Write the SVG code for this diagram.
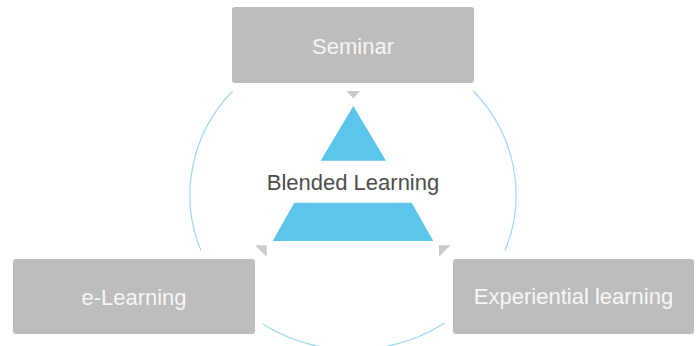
<svg xmlns="http://www.w3.org/2000/svg" width="697" height="346" viewBox="0 0 697 346">
  <style>
    .box { fill: #bdbdbd; }
    .boxlabel { font-family: "Liberation Sans", Arial, sans-serif; font-size: 22px; fill: #f7f7f7; text-anchor: middle; }
    .arc { fill: none; stroke: #9dd9f3; stroke-width: 1.2; }
    .tip { fill: #cbcbcb; }
    .pyr { fill: #5cc5ec; }
    .center { font-family: "Liberation Sans", Arial, sans-serif; font-size: 22px; fill: #4d4d4d; text-anchor: middle; }
  </style>
  <rect width="697" height="346" fill="#ffffff"/>
  <g id="connectors">
    <path class="arc" d="M232.7,91 A163.3,154 0 0,0 201,250.7"/>
    <path class="arc" d="M262.7,324 A163.3,154 0 0,0 445,322.7"/>
    <path class="arc" d="M505,250.7 A163.3,154 0 0,0 473.3,91"/>
    <polygon class="tip" points="346.5,91 360,91 353.3,98.5"/>
    <polygon class="tip" points="255,245.3 266.7,245.3 266.7,256.7"/>
    <polygon class="tip" points="439,245.3 450.7,245.3 439,256.7"/>
  </g>
  <g id="blended-learning">
    <polygon class="pyr" points="353.3,106 386,160.7 320.7,160.7"/>
    <polygon class="pyr" points="294.3,202.7 411.7,202.7 433.3,241 272.7,241"/>
    <text class="center" x="353" y="190">Blended Learning</text>
  </g>
  <g id="seminar">
    <rect class="box" x="232" y="7" width="242" height="76" rx="3"/>
    <text class="boxlabel" x="353" y="53.5">Seminar</text>
  </g>
  <g id="e-learning">
    <rect class="box" x="13" y="259" width="242" height="75" rx="3"/>
    <text class="boxlabel" x="134" y="304.5">e-Learning</text>
  </g>
  <g id="experiential-learning">
    <rect class="box" x="453" y="259" width="241" height="75" rx="3"/>
    <text class="boxlabel" x="573.5" y="304">Experiential learning</text>
  </g>
</svg>
